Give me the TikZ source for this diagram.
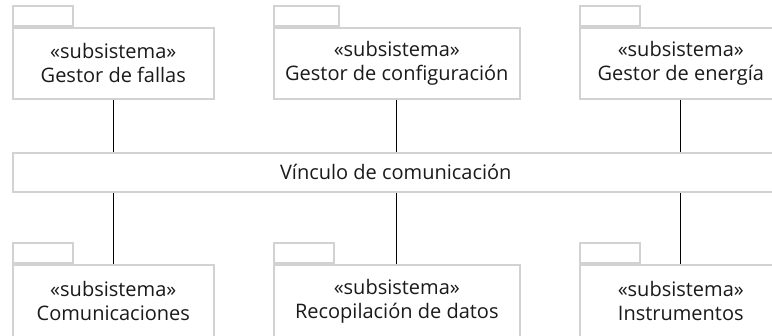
\documentclass[tikz,border=0pt]{standalone}
\usepackage{fontspec}
\setmainfont{Open Sans}
\definecolor{boxgray}{HTML}{D2D2D2}
\definecolor{inkc}{HTML}{1A1A1A}
\begin{document}
\begin{tikzpicture}[x=1pt,y=-1pt,
  pkg/.style={draw=boxgray, line width=1.6pt, fill=white, minimum height=71pt,
    inner sep=0pt, align=center, text=inkc, font=\fontsize{20}{24}\selectfont, anchor=north west},
  tabbox/.style={draw=boxgray, line width=1.6pt, minimum width=62pt, minimum height=20pt,
    inner sep=0pt, anchor=south west},
  link/.style={draw=black, line width=0.9pt}]
\useasboundingbox (0,0) rectangle (772,336);
\clip (0,0) rectangle (772,336);
% top row
\node[pkg, minimum width=201pt] (g1) at (12,27) {«subsistema»\\Gestor de fallas};
\node[tabbox, minimum width=60pt] (g1t) at (g1.north west) {};
\node[pkg, minimum width=246pt] (g2) at (273,27) {«subsistema»\\Gestor de configuración};
\node[tabbox, minimum width=65pt] (g2t) at (g2.north west) {};
\node[pkg, minimum width=202pt] (g3) at (579,27) {«subsistema»\\Gestor de energía};
\node[tabbox, minimum width=60pt] (g3t) at (g3.north west) {};
% bar
\node[draw=boxgray, line width=1.6pt, minimum width=766pt, minimum height=39pt, inner sep=0pt,
  anchor=north west, text=inkc, font=\fontsize{20}{24}\selectfont] (bar) at (12,152) {Vínculo de comunicación};
% bottom row
\node[pkg, minimum width=201pt, minimum height=73pt] (b1) at (12,264) {«subsistema»\\Comunicaciones};
\node[tabbox, minimum width=60pt] (b1t) at (b1.north west) {};
\node[pkg, minimum width=246pt, minimum height=73pt] (b2) at (273,264) {«subsistema»\\Recopilación de datos};
\node[tabbox, minimum width=60pt] (b2t) at (b2.north west) {};
\node[pkg, minimum width=202pt, minimum height=73pt] (b3) at (579,264) {«subsistema»\\Instrumentos};
\node[tabbox, minimum width=60pt] (b3t) at (b3.north west) {};
% connectors
\draw[link] (g1.south) -- (g1.south |- bar.north);
\draw[link] (g2.south) -- (g2.south |- bar.north);
\draw[link] (g3.south) -- (g3.south |- bar.north);
\draw[link] (b1.north) -- (b1.north |- bar.south);
\draw[link] (b2.north) -- (b2.north |- bar.south);
\draw[link] (b3.north) -- (b3.north |- bar.south);
\end{tikzpicture}
\end{document}
